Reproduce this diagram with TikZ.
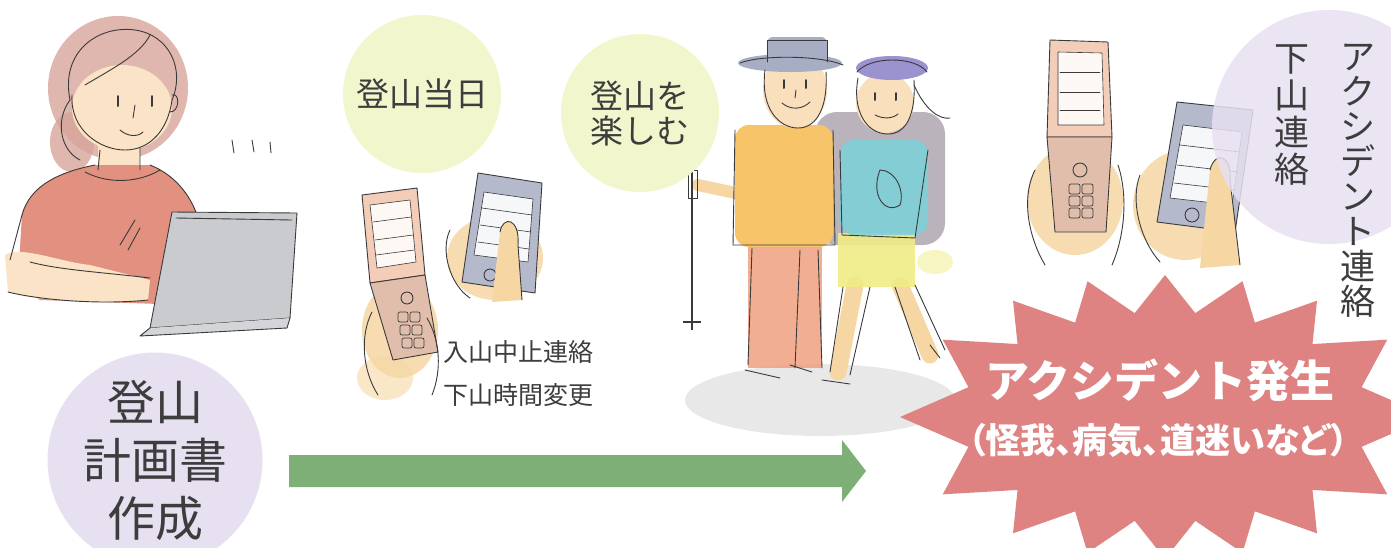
\documentclass[tikz,border=0pt]{standalone}
\usepackage{fontspec}
\setmainfont{Noto Sans CJK JP}
\newfontfamily\jpprop{Noto Sans CJK JP}[RawFeature=+palt]
\usetikzlibrary{calc}

\definecolor{lav}{HTML}{E7E0F1}
\definecolor{pale}{HTML}{F1F6CC}
\definecolor{arrowgreen}{HTML}{7DAF77}
\definecolor{burst}{HTML}{DE8282}
\definecolor{ink}{HTML}{3D3D3D}
\definecolor{skin}{HTML}{F6D7A4}
\definecolor{facecol}{HTML}{FAE3C7}
\definecolor{shirtcol}{HTML}{E2907F}
\definecolor{haircol}{HTML}{D7A59C}
\definecolor{laptopcol}{HTML}{C9CBCE}
\definecolor{pencil}{HTML}{3A3A3A}
\definecolor{flipcol}{HTML}{F4CDB8}
\definecolor{smartcol}{HTML}{B5B9CC}
\definecolor{ochre}{HTML}{F7C46A}
\definecolor{pantscol}{HTML}{EFA080}
\definecolor{teecol}{HTML}{7FD0D8}
\definecolor{shortscol}{HTML}{F0EC86}
\definecolor{capa}{HTML}{A7AEC4}
\definecolor{capb}{HTML}{9B93CF}
\definecolor{packcol}{HTML}{A9A1AA}
\definecolor{groundcol}{HTML}{E8E8E8}

\tikzset{
  sketch/.style={draw=pencil, line width=0.9pt, line join=round, line cap=round},
  bubble/.style={circle, inner sep=0pt, text=ink, align=center},
  caption/.style={text=ink, inner sep=0pt, align=center},
}

\begin{document}
\begin{tikzpicture}[x=1pt,y=-1pt]
\useasboundingbox (0,0) rectangle (1391,547);
\fill[white] (0,0) rectangle (1391,547);

%% ---------- planner at the laptop ----------
\fill[haircol, opacity=.8] (118,88) ellipse [x radius=70, y radius=72];
\fill[haircol, opacity=.8] (72,142) ellipse [x radius=22, y radius=30];
\fill[facecol] (98,140) rectangle (140,175);
\fill[shirtcol] (22,215) .. controls (30,185) and (60,172) .. (95,165) -- (150,165)
  .. controls (175,175) and (190,195) .. (197,215) -- (190,305) -- (40,300) -- (18,280) -- cycle;
\fill[facecol] (5,255) .. controls (20,245) and (60,262) .. (90,265) -- (150,280) -- (148,300)
  .. controls (100,305) and (30,300) .. (8,292) -- cycle;
\fill[facecol] (122,108) ellipse [x radius=50, y radius=43];
\draw[sketch] (72,95) .. controls (70,130) and (100,150) .. (125,150) .. controls (150,150) and (168,130) .. (172,100);
\draw[sketch] (70,100) .. controls (60,50) and (100,25) .. (135,30) .. controls (170,35) and (185,70) .. (172,100);
\draw[sketch] (85,85) .. controls (110,70) and (140,55) .. (150,35);
\draw[sketch] (70,100) .. controls (55,120) and (60,150) .. (80,160);
\draw[sketch, line width=2pt] (118,96) -- (118,106) (152,96) -- (152,106);
\draw[sketch] (135,105) -- (133,118);
\draw[sketch] (120,130) .. controls (128,137) and (138,137) .. (143,132);
\draw[sketch] (172,95) .. controls (180,92) and (180,112) .. (170,112);
\draw[sketch] (100,150) -- (98,170) (140,148) -- (140,170);
\draw[sketch] (85,172) .. controls (110,185) and (140,182) .. (160,170);
\draw[sketch] (22,215) .. controls (30,185) and (60,172) .. (95,165);
\draw[sketch] (150,165) .. controls (175,175) and (190,195) .. (197,215);
\draw[sketch] (22,215) -- (10,260);
\draw[sketch] (8,292) .. controls (40,300) and (100,305) .. (148,300);
\draw[sketch] (30,262) .. controls (60,270) and (100,272) .. (150,278);
\draw[sketch] (120,245) -- (135,220) (128,250) -- (140,228);
\fill[laptopcol] (172,212) -- (297,213) -- (290,318) -- (150,328) -- cycle;
\draw[sketch] (172,212) -- (297,213) -- (290,318) -- (150,328) -- cycle;
\draw[sketch] (176,218) -- (292,220);
\fill[laptopcol!80] (150,328) -- (290,318) -- (287,328) -- (140,336) -- cycle;
\draw[sketch] (150,328) -- (140,336) -- (287,328) -- (290,318);
\draw[sketch] (232,140) -- (234,153) (252,140) -- (254,152) (270,142) -- (271,153);

%% ---------- phones on the day of the climb ----------
\fill[skin, opacity=.85] (400,330) ellipse [x radius=38, y radius=48];
\fill[skin, opacity=.6] (385,378) ellipse [x radius=28, y radius=22];
\fill[flipcol] (362,195) -- (417,188) -- (425,275) -- (370,283) -- cycle;
\draw[sketch] (362,195) -- (417,188) -- (425,275) -- (370,283) -- cycle;
\fill[white!85!flipcol] (370,205) -- (410,200) -- (416,262) -- (377,268) -- cycle;
\draw[sketch, line width=.6pt] (370,205) -- (410,200) -- (416,262) -- (377,268) -- cycle;
\draw[sketch, line width=.6pt] (373,222) -- (411,217) (375,240) -- (413,235) (376,255) -- (414,250);
\fill[flipcol!90!pencil] (370,283) -- (425,275) -- (438,352) -- (393,360) -- cycle;
\draw[sketch] (370,283) -- (425,275) -- (438,352) -- (393,360) -- cycle;
\draw[sketch] (407,298) circle (6);
\foreach \r in {0,1,2} \foreach \c in {0,1}
  \draw[sketch, line width=.7pt, rounded corners=2pt]
    ({398+12*\c+2*\r},{312+13*\r}) rectangle ++(10,10);
\draw[sketch] (372,312) .. controls (360,335) and (362,370) .. (378,395);
\draw[sketch] (427,318) .. controls (440,340) and (442,370) .. (432,395);

\fill[skin, opacity=.85] (495,258) ellipse [x radius=48, y radius=42];
\fill[smartcol] (478,173) -- (542,183) -- (535,293) -- (462,282) -- cycle;
\draw[sketch] (478,173) -- (542,183) -- (535,293) -- (462,282) -- cycle;
\fill[white!88!smartcol] (484,192) -- (533,199) -- (528,262) -- (474,255) -- cycle;
\draw[sketch, line width=.6pt] (484,192) -- (533,199) -- (528,262) -- (474,255) -- cycle;
\draw[sketch, line width=.6pt] (482,208) -- (532,215) (480,225) -- (531,232) (478,242) -- (529,249);
\draw[sketch] (490,275) circle (6);
\fill[skin] (500,232) .. controls (503,215) and (520,218) .. (518,245) -- (522,300) -- (492,302) -- cycle;
\draw[sketch] (500,232) .. controls (503,215) and (520,218) .. (518,245) -- (522,300);
\draw[sketch] (450,230) .. controls (440,250) and (450,285) .. (470,298);

%% ---------- two hikers ----------
\fill[groundcol] (820,400) ellipse [x radius=135, y radius=36];
\fill[packcol, opacity=.8, rounded corners=22pt] (815,112) rectangle (945,245);
% man
\draw[skin, line width=12pt, line cap=round] (752,142) -- (745,195) -- (698,185);
\fill[ochre, rounded corners=14pt] (735,125) rectangle (833,247);
\fill[pantscol, opacity=.85] (748,247) rectangle (822,368);
\fill[facecol!70!skin] (795,90) ellipse [x radius=32, y radius=38];
\fill[capa] (790,63) ellipse [x radius=52, y radius=9];
\fill[capa, rounded corners=6pt] (767,37) rectangle (827,62);
\draw[sketch] (767,62) -- (767,40) -- (827,40) -- (827,62);
\draw[sketch] (740,63) .. controls (760,55) and (820,55) .. (843,65);
\draw[sketch] (765,70) .. controls (760,110) and (780,128) .. (798,128) .. controls (818,128) and (828,105) .. (826,72);
\draw[sketch, line width=2pt] (784,80) -- (784,88) (806,80) -- (806,88);
\draw[sketch] (796,90) -- (795,98);
\draw[sketch] (782,103) .. controls (790,110) and (802,110) .. (810,102);
\draw[sketch] (735,130) -- (733,245) -- (835,245) -- (833,130);
\draw[sketch] (752,248) -- (748,365) (800,250) -- (795,368) (818,250) -- (822,368);
\draw[sketch] (745,370) -- (780,378) (790,365) -- (812,372);
\draw[pencil, line width=2.5pt] (692,172) -- (692,330);
\draw[pencil, line width=1.2pt] (683,322) -- (701,322);
\draw[sketch] (688,170) rectangle (697,198);
% woman
\draw[skin, line width=17pt, line cap=round] (855,285) -- (838,372);
\draw[skin, line width=17pt, line cap=round] (900,285) -- (930,355);
\fill[shortscol, opacity=.9] (838,233) rectangle (915,287);
\fill[shortscol, opacity=.5] (935,262) ellipse [x radius=18, y radius=12];
\fill[teecol, opacity=.9, rounded corners=14pt] (840,140) rectangle (928,235);
\fill[facecol!70!skin] (885,103) ellipse [x radius=29, y radius=30];
\fill[capb] (892,68) ellipse [x radius=36, y radius=12];
\draw[sketch] (857,72) .. controls (870,56) and (915,56) .. (927,72);
\draw[sketch] (858,78) .. controls (852,110) and (866,134) .. (888,134) .. controls (906,134) and (916,115) .. (914,80);
\draw[sketch] (914,85) .. controls (925,110) and (940,120) .. (950,118);
\draw[sketch, line width=2pt] (875,93) -- (875,100) (896,93) -- (896,100);
\draw[sketch] (875,115) .. controls (883,119) and (892,119) .. (898,114);
\draw[sketch] (840,150) -- (842,235) -- (915,238) -- (928,150);
\draw[sketch] (880,170) .. controls (870,195) and (885,215) .. (900,205) .. controls (905,190) and (895,170) .. (880,170);
\draw[sketch] (843,287) -- (830,372) (870,287) -- (850,375) (895,287) -- (920,360) (915,285) -- (945,350);
\draw[sketch] (822,380) -- (850,384) (930,345) -- (940,358);

%% ---------- phones after the climb ----------
\fill[skin, opacity=.85] (1075,200) ellipse [x radius=48, y radius=55];
\fill[flipcol] (1050,40) -- (1108,42) -- (1112,137) -- (1047,137) -- cycle;
\draw[sketch] (1050,40) -- (1108,42) -- (1112,137) -- (1047,137) -- cycle;
\fill[white!85!flipcol] (1058,52) -- (1102,53) -- (1104,125) -- (1058,125) -- cycle;
\draw[sketch, line width=.6pt] (1058,52) -- (1102,53) -- (1104,125) -- (1058,125) -- cycle;
\draw[sketch, line width=.6pt] (1060,72) -- (1100,72) (1060,92) -- (1100,92) (1060,110) -- (1100,110);
\fill[flipcol!90!pencil] (1047,137) -- (1112,137) -- (1106,232) -- (1055,232) -- cycle;
\draw[sketch] (1047,137) -- (1112,137) -- (1106,232) -- (1055,232) -- cycle;
\draw[sketch] (1080,170) circle (7);
\foreach \r in {0,1,2} \foreach \c in {0,1}
  \draw[sketch, line width=.7pt, rounded corners=2pt]
    ({1069+13*\c},{184+12*\r}) rectangle ++(11,10);
\draw[sketch] (1035,170) .. controls (1020,200) and (1030,240) .. (1045,265);
\draw[sketch] (1118,165) .. controls (1128,195) and (1125,235) .. (1112,265);

\fill[skin, opacity=.85] (1185,205) ellipse [x radius=52, y radius=55];
\fill[smartcol] (1177,102) -- (1253,110) -- (1235,232) -- (1157,222) -- cycle;
\draw[sketch] (1177,102) -- (1253,110) -- (1235,232) -- (1157,222) -- cycle;
\fill[white!88!smartcol] (1183,125) -- (1242,132) -- (1232,205) -- (1170,198) -- cycle;
\draw[sketch, line width=.6pt] (1183,125) -- (1242,132) -- (1232,205) -- (1170,198) -- cycle;
\draw[sketch, line width=.6pt] (1180,145) -- (1240,152) (1177,165) -- (1238,172) (1174,183) -- (1235,190);
\draw[sketch] (1192,215) circle (7);
\fill[skin] (1210,170) .. controls (1215,150) and (1232,155) .. (1230,180) -- (1240,265) -- (1200,268) -- cycle;
\draw[sketch] (1210,170) .. controls (1215,150) and (1232,155) .. (1230,180) -- (1240,265);
\draw[sketch] (1140,175) .. controls (1130,200) and (1140,240) .. (1160,262);

%% ---------- round labels ----------
\node[bubble, fill=lav, minimum size=214pt,
      font=\fontsize{48}{58}\selectfont] (plan) at (155,460) {登山\\計画書\\作成};
\node[bubble, fill=pale, minimum size=158pt,
      font=\fontsize{33}{36}\selectfont] (day) at (422,94) {登山当日};
\node[bubble, fill=pale, minimum size=158pt,
      font=\fontsize{33}{35}\selectfont] (enjoy) at (640,113) {登山を\\楽しむ};
\node[circle, fill=lav, fill opacity=.85, minimum size=234pt, inner sep=0pt] (contact) at (1329,127) {};
\node[caption, font=\fontsize{35}{37}\selectfont] (down) at (1292,115) {下\\山\\連\\絡};
\node[caption, font=\fontsize{35}{35}\selectfont] (alert) at (1358,181) {ア\\ク\\シ\\デ\\ン\\ト\\連\\絡};

\node[caption, anchor=west, font=\fontsize{25}{25}\selectfont] (cancel) at (443,352) {入山中止連絡};
\node[caption, anchor=west, font=\fontsize{25}{25}\selectfont] (change) at (443,395) {下山時間変更};

%% ---------- timeline arrow ----------
\coordinate (arrowstart) at (289,471);
\coordinate (arrowtip) at (866,471);
\fill[arrowgreen] ($(arrowstart)+(0,-16)$) -- ($(arrowtip)+(-24,-16)$) -- ($(arrowtip)+(-24,-31)$)
  -- (arrowtip) -- ($(arrowtip)+(-24,31)$) -- ($(arrowtip)+(-24,16)$) -- ($(arrowstart)+(0,16)$) -- cycle;

%% ---------- accident burst ----------
\fill[burst] (1165,275)
  \foreach \t/\v in {98.5/107, 116/125, 136/147, 163.5/180, 196.5/213, 224/235, 244/253, 261.5/270,
                     278.5/287, 296/305, 316/327, 343.5/360, 376.5/393, 404/415, 424/433, 441.5/450}
  { -- ({1165+205*cos(\t)},{417-105*sin(\t)}) -- ({1165+265*cos(\v)},{417-142*sin(\v)}) } -- cycle;
\node[caption, text=white, font=\bfseries\fontsize{44}{44}\selectfont] (accident) at (1160,380) {アクシデント発生};
\node[caption, text=white, font=\bfseries\jpprop\fontsize{35}{35}\selectfont] (causes) at (1158,440) {（怪我、病気、道迷いなど）};
\end{tikzpicture}
\end{document}
